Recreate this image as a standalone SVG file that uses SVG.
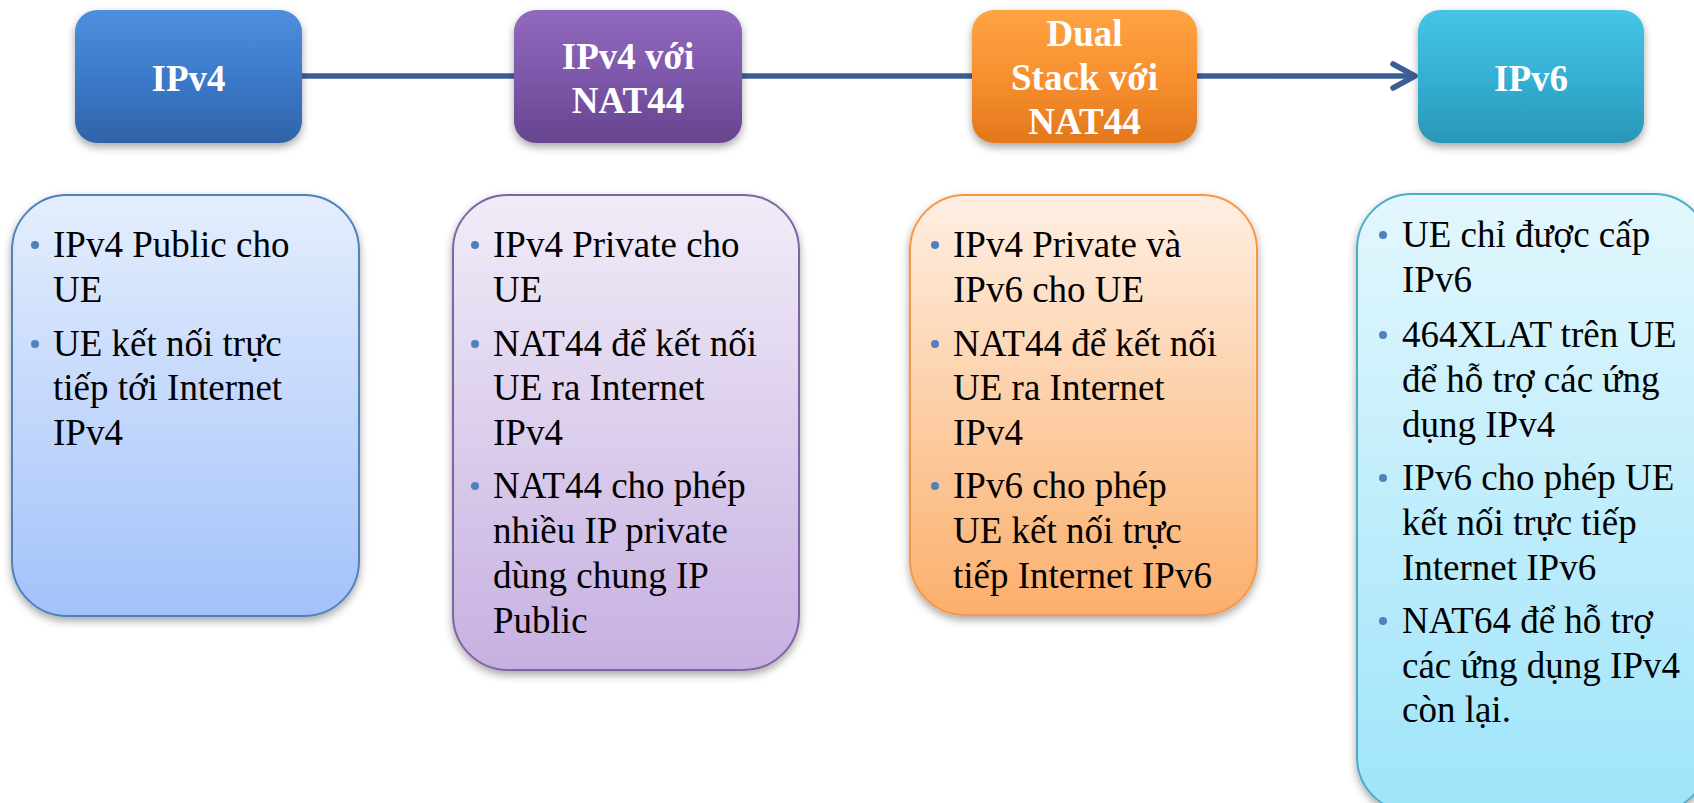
<svg xmlns="http://www.w3.org/2000/svg" width="1694" height="803" viewBox="0 0 1694 803">
<defs>
<linearGradient id="hBlue" x1="0" y1="0" x2="0" y2="1"><stop offset="0" stop-color="#4D8FDE"/><stop offset="0.5" stop-color="#3C7ACA"/><stop offset="1" stop-color="#3063A8"/></linearGradient>
<linearGradient id="hPurple" x1="0" y1="0" x2="0" y2="1"><stop offset="0" stop-color="#9169BD"/><stop offset="0.5" stop-color="#7D58AA"/><stop offset="1" stop-color="#67448F"/></linearGradient>
<linearGradient id="hOrange" x1="0" y1="0" x2="0" y2="1"><stop offset="0" stop-color="#FFA343"/><stop offset="0.5" stop-color="#F8902F"/><stop offset="1" stop-color="#E2771B"/></linearGradient>
<linearGradient id="hCyan" x1="0" y1="0" x2="0" y2="1"><stop offset="0" stop-color="#46C5E5"/><stop offset="0.5" stop-color="#35B0D4"/><stop offset="1" stop-color="#2A96B6"/></linearGradient>
<linearGradient id="bBlue" x1="0" y1="0" x2="0" y2="1"><stop offset="0" stop-color="#E4EEFD"/><stop offset="1" stop-color="#A3C2FA"/></linearGradient>
<linearGradient id="bPurple" x1="0" y1="0" x2="0" y2="1"><stop offset="0" stop-color="#F1ECF8"/><stop offset="1" stop-color="#C6B0E1"/></linearGradient>
<linearGradient id="bOrange" x1="0" y1="0" x2="0" y2="1"><stop offset="0" stop-color="#FEEFE3"/><stop offset="1" stop-color="#FBAF6C"/></linearGradient>
<linearGradient id="bCyan" x1="0" y1="0" x2="0" y2="1"><stop offset="0" stop-color="#E3F7FD"/><stop offset="1" stop-color="#9EE4FA"/></linearGradient>
<filter id="shadow" x="-10%" y="-10%" width="120%" height="125%"><feDropShadow dx="0" dy="4" stdDeviation="4" flood-color="#000" flood-opacity="0.35"/></filter>
</defs>
<style>
.hdr{filter:url(#shadow)}
.htxt{font-family:"Liberation Serif","Times New Roman",serif;font-weight:bold;font-size:37px;fill:#FFFFFF;text-anchor:middle}
.body{filter:url(#shadow);stroke-width:2}
.btxt{font-family:"Liberation Serif","Times New Roman",serif;font-size:37px;fill:#000000}
.b4{font-size:37px}
.dot{fill:#4F81BD}
.conn{fill:none;stroke:#3B5F94;stroke-width:5.5;stroke-linecap:round;stroke-linejoin:round}
</style>
<g id="connectors">
<line class="conn" x1="300" y1="76" x2="1413" y2="76"/>
<polyline class="conn" points="1393,64 1415,76 1393,88"/>
</g>
<g id="h1">
<rect class="hdr" x="75" y="10" width="227" height="133" rx="22" fill="url(#hBlue)"/>
<text class="htxt" x="188.5" y="91">IPv4</text>
</g>
<g id="h2">
<rect class="hdr" x="514" y="10" width="228" height="133" rx="22" fill="url(#hPurple)"/>
<text class="htxt" x="628" y="69">IPv4 với</text>
<text class="htxt" x="628" y="113">NAT44</text>
</g>
<g id="h3">
<rect class="hdr" x="972" y="10" width="225" height="133" rx="22" fill="url(#hOrange)"/>
<text class="htxt" x="1084.5" y="46">Dual</text>
<text class="htxt" x="1084.5" y="90">Stack với</text>
<text class="htxt" x="1084.5" y="134">NAT44</text>
</g>
<g id="h4">
<rect class="hdr" x="1418" y="10" width="226" height="133" rx="22" fill="url(#hCyan)"/>
<text class="htxt" x="1531" y="91">IPv6</text>
</g>
<g id="b1">
<rect class="body" x="12" y="195" width="347" height="421" rx="55" fill="url(#bBlue)" stroke="#4F81BD"/>
<circle class="dot" cx="35" cy="245" r="4"/>
<circle class="dot" cx="35" cy="344" r="4"/>
<text class="btxt" x="53" y="257">IPv4 Public cho</text>
<text class="btxt" x="53" y="302">UE</text>
<text class="btxt" x="53" y="356">UE kết nối trực</text>
<text class="btxt" x="53" y="400">tiếp tới Internet</text>
<text class="btxt" x="53" y="445">IPv4</text>
</g>
<g id="b2">
<rect class="body" x="453" y="195" width="346" height="475" rx="55" fill="url(#bPurple)" stroke="#8064A2"/>
<circle class="dot" cx="475" cy="245" r="4"/>
<circle class="dot" cx="475" cy="344" r="4"/>
<circle class="dot" cx="475" cy="486" r="4"/>
<text class="btxt" x="493" y="257">IPv4 Private cho</text>
<text class="btxt" x="493" y="302">UE</text>
<text class="btxt" x="493" y="356">NAT44 để kết nối</text>
<text class="btxt" x="493" y="400">UE ra Internet</text>
<text class="btxt" x="493" y="445">IPv4</text>
<text class="btxt" x="493" y="498">NAT44 cho phép</text>
<text class="btxt" x="493" y="543">nhiều IP private</text>
<text class="btxt" x="493" y="588">dùng chung IP</text>
<text class="btxt" x="493" y="633">Public</text>
</g>
<g id="b3">
<rect class="body" x="910" y="195" width="347" height="420" rx="55" fill="url(#bOrange)" stroke="#F79646"/>
<circle class="dot" cx="935" cy="245" r="4"/>
<circle class="dot" cx="935" cy="344" r="4"/>
<circle class="dot" cx="935" cy="486" r="4"/>
<text class="btxt" x="953" y="257">IPv4 Private và</text>
<text class="btxt" x="953" y="302">IPv6 cho UE</text>
<text class="btxt" x="953" y="356">NAT44 để kết nối</text>
<text class="btxt" x="953" y="400">UE ra Internet</text>
<text class="btxt" x="953" y="445">IPv4</text>
<text class="btxt" x="953" y="498">IPv6 cho phép</text>
<text class="btxt" x="953" y="543">UE kết nối trực</text>
<text class="btxt" x="953" y="588">tiếp Internet IPv6</text>
</g>
<g id="b4">
<rect class="body" x="1357" y="194" width="352" height="618" rx="55" fill="url(#bCyan)" stroke="#4BACC6"/>
<circle class="dot" cx="1383" cy="235" r="4"/>
<circle class="dot" cx="1383" cy="335" r="4"/>
<circle class="dot" cx="1383" cy="478" r="4"/>
<circle class="dot" cx="1383" cy="621" r="4"/>
<text class="btxt b4" x="1402" y="247">UE chỉ được cấp</text>
<text class="btxt b4" x="1402" y="292">IPv6</text>
<text class="btxt b4" x="1402" y="347">464XLAT trên UE</text>
<text class="btxt b4" x="1402" y="392">để hỗ trợ các ứng</text>
<text class="btxt b4" x="1402" y="437">dụng IPv4</text>
<text class="btxt b4" x="1402" y="490">IPv6 cho phép UE</text>
<text class="btxt b4" x="1402" y="535">kết nối trực tiếp</text>
<text class="btxt b4" x="1402" y="580">Internet IPv6</text>
<text class="btxt b4" x="1402" y="633">NAT64 để hỗ trợ</text>
<text class="btxt b4" x="1402" y="678">các ứng dụng IPv4</text>
<text class="btxt b4" x="1402" y="722">còn lại.</text>
</g>
</svg>
